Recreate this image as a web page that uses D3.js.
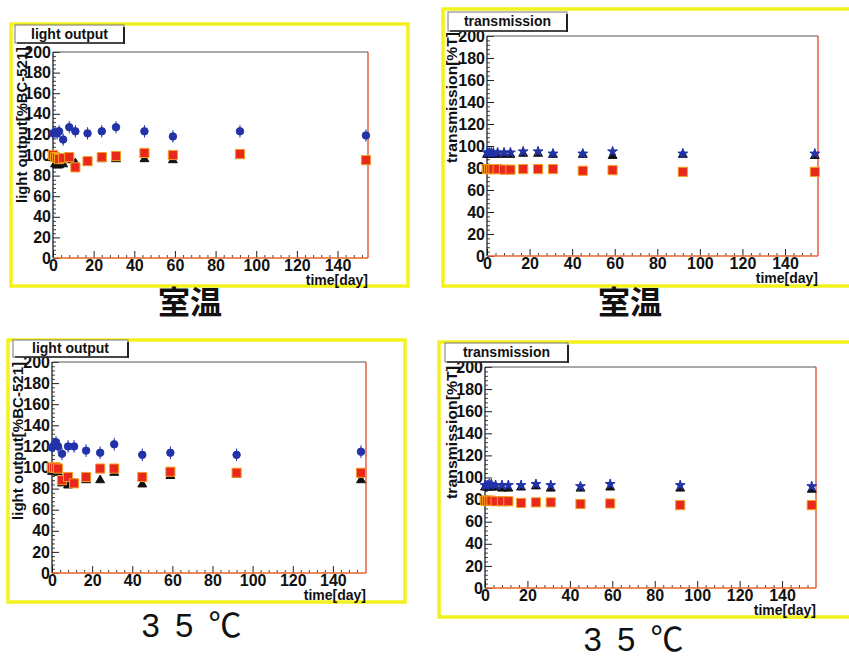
<!DOCTYPE html>
<html><head><meta charset="utf-8">
<script src="https://cdn.jsdelivr.net/npm/d3@7"></script>
<style>
html,body{margin:0;padding:0;background:#fff;}
svg{display:block;}
.tick text{font-family:"Liberation Sans Narrow","Liberation Sans",Arial,sans-serif;font-weight:bold;font-size:16px;fill:#111;}
</style></head>
<body><svg id="c" width="849" height="658"></svg>
<script>
// ---- data ----
const days = [0,1,2,3,5,8,11,17,24,31,45,59,92,154];
// light output, room temperature
const loRoomBlue  = [121,122,121,123,115,127,123,121,123,127,123,118,123,119];
const loRoomRed   = [100,98,97,96,97,98,88,94,98,99,102,100,101,95];
const loRoomBlack = [97,91,90,90,91,95,92,93,96,96,96,95,99,94];
// transmission, room temperature
const trRoomBlue  = [94,94,94,94,94,94,94,95,95,93,93,95,93,93];
const trRoomBlack = [92,92,92,92,92,92,92,93,93,92,92,91,92,91];
const trRoomRed   = [79,79,79,79,79,78.5,78.5,79,79,79,77.5,78,76.5,76.5];
// light output, 35 C
const lo35Blue  = [119,121,124,120,113,120,120,116,114,122,112,114,112,115];
const lo35Red   = [100,100,100,99,88,91,85,91,99,99,91,96,95,95];
const lo35Black = [96,96,96,95,85,83,85,88,88,95,84,92,93,88];
// transmission, 35 C
const tr35Blue  = [93,93,94,94,93,93,93,93,94,93,92,94,93,92];
const tr35Black = [91,91,91,91,91,90,90,91,92,90,90,91,90,89];
const tr35Red   = [79,79,79,79,78.5,78.5,78.5,77,77.5,77.5,76,76.5,75,75];

const yTicks = [0,20,40,60,80,100,120,140,160,180,200];
const xTicks = [0,20,40,60,80,100,120,140];
const xTitle = "time[day]";
const panelTitles = ["light output","transmission","light output","transmission"];
const yTitles = ["light output[%BC-521]","transmission[%T]","light output[%BC-521]","transmission[%T]"];
const captions = ["室温","室温","3 5 ℃","3 5 ℃"];

// ---- layout ----
const panels = [
  {frame:[11,24,408,286], plot:[53,52,368,258], x1:155, box:[15,25,124,43], yt:[22,47,156], cap:[190,314], bold:true,
   blue:loRoomBlue, red:loRoomRed, black:loRoomBlack, star:false},
  {frame:[443,9,862,286], plot:[487,36,818,256], x1:155.5, box:[448,12,567,31], yt:[452,32,131], cap:[630,314], bold:true,
   blue:trRoomBlue, red:trRoomRed, black:trRoomBlack, star:true},
  {frame:[8,340,405,602], plot:[52,362,366,573], x1:156.5, box:[13,340,128,357], yt:[18,362,158], cap:[193,637], bold:false,
   blue:lo35Blue, red:lo35Red, black:lo35Black, star:false},
  {frame:[439,342,862,617], plot:[485,367,816,588], x1:156, box:[445,343,568,362], yt:[452,366,133], cap:[635,651], bold:false,
   blue:tr35Blue, red:tr35Red, black:tr35Black, star:true}
];

const svg = d3.select("#c");
const FONT = '"Liberation Sans",Arial,sans-serif';

panels.forEach((p,i)=>{
  const g = svg.append("g");
  const [fx0,fy0,fx1,fy1] = p.frame;
  g.append("rect").attr("x",fx0).attr("y",fy0).attr("width",fx1-fx0).attr("height",fy1-fy0)
    .attr("fill","#fff").attr("stroke","#f3f21c").attr("stroke-width",3.5);

  const [px0,py0,px1,py1] = p.plot;
  const x = d3.scaleLinear().domain([0,p.x1]).range([px0,px1]);
  const y = d3.scaleLinear().domain([0,200]).range([py1,py0]);

  // minor ticks
  const yMinor = d3.range(0,201,4).filter(v=>v%20!==0);
  const xMinor = d3.range(0,156,4).filter(v=>v%20!==0);
  g.append("g").attr("transform",`translate(${px0},0)`)
    .call(d3.axisLeft(y).tickValues(yMinor).tickSize(-3).tickFormat(""))
    .call(a=>a.select(".domain").remove()).selectAll("line").attr("stroke","#444");
  g.append("g").attr("transform",`translate(0,${py1})`)
    .call(d3.axisBottom(x).tickValues(xMinor).tickSize(-3).tickFormat(""))
    .call(a=>a.select(".domain").remove()).selectAll("line").attr("stroke","#444");
  // major
  const ya = g.append("g").attr("transform",`translate(${px0},0)`)
    .call(d3.axisLeft(y).tickValues(yTicks).tickSize(-7).tickPadding(2))
    .call(a=>a.select(".domain").remove());
  ya.selectAll("line").attr("stroke","#222");
  const xa = g.append("g").attr("transform",`translate(0,${py1})`)
    .call(d3.axisBottom(x).tickValues(xTicks).tickSize(-7).tickPadding(2))
    .call(a=>a.select(".domain").remove());
  xa.selectAll("line").attr("stroke","#222");

  // frame lines
  g.append("line").attr("x1",px0).attr("x2",px1).attr("y1",py0).attr("y2",py0).attr("stroke","#555").attr("stroke-width",1);
  g.append("line").attr("x1",px0).attr("x2",px0).attr("y1",py0).attr("y2",py1).attr("stroke","#111").attr("stroke-width",1.2);
  g.append("line").attr("x1",px1).attr("x2",px1).attr("y1",py0).attr("y2",py1).attr("stroke","#e0442a").attr("stroke-width",1.3);
  g.append("line").attr("x1",px0).attr("x2",px1).attr("y1",py1).attr("y2",py1).attr("stroke","#e8662a").attr("stroke-width",1.3);

  // axis titles
  g.append("text").attr("transform",`translate(${p.yt[0]},${p.yt[1]}) rotate(-90)`)
    .attr("text-anchor","end").attr("dy","0.35em")
    .attr("font-family",FONT).attr("font-weight","bold").attr("font-size",14).attr("fill","#111")
    .attr("textLength",p.yt[2]).attr("lengthAdjust","spacingAndGlyphs")
    .text(yTitles[i]);
  g.append("text").attr("x",px1).attr("y",py1+27).attr("text-anchor","end")
    .attr("font-family",FONT).attr("font-weight","bold").attr("font-size",14).attr("fill","#111")
    .text(xTitle);

  // title box
  const [bx0,by0,bx1,by1] = p.box;
  g.append("rect").attr("x",bx0).attr("y",by0).attr("width",bx1-bx0).attr("height",by1-by0)
    .attr("fill","#fff").attr("stroke","#777").attr("stroke-width",1);
  g.append("line").attr("x1",bx1).attr("x2",bx1).attr("y1",by0+2).attr("y2",by1+1).attr("stroke","#222").attr("stroke-width",2);
  g.append("line").attr("x1",bx0+2).attr("x2",bx1).attr("y1",by1).attr("y2",by1).attr("stroke","#222").attr("stroke-width",1.5);
  g.append("text").attr("x",(bx0+bx1)/2).attr("y",(by0+by1)/2).attr("dy","0.35em").attr("text-anchor","middle")
    .attr("font-family",FONT).attr("font-weight","bold").attr("font-size",14).attr("fill","#111")
    .text(panelTitles[i]);

  // series
  const series = [
    {vals:p.black, fill:"#111", stroke:"#111", sym:d3.symbolTriangle, size:34, err:2},
    {vals:p.red, fill:"#e8281c", stroke:"#f5a020", sym:d3.symbolSquare, size:84, err:2},
    {vals:p.blue, fill:"#2232a8", stroke:"#2232a8", sym:p.star?d3.symbolStar:d3.symbolCircle, size:p.star?30:44, err:p.star?2.5:6}
  ];
  series.forEach(s=>{
    const sg = g.append("g");
    sg.selectAll("line.e").data(days).join("line").attr("class","e")
      .attr("x1",(d)=>x(d)).attr("x2",(d)=>x(d))
      .attr("y1",(d,j)=>y(s.vals[j]+s.err)).attr("y2",(d,j)=>y(s.vals[j]-s.err))
      .attr("stroke",s.fill).attr("stroke-width",1);
    sg.selectAll("path").data(days).join("path")
      .attr("transform",(d,j)=>`translate(${x(d)},${y(s.vals[j])})`)
      .attr("d",d3.symbol().type(s.sym).size(s.size)())
      .attr("fill",s.fill).attr("stroke",s.stroke).attr("stroke-width",1);
  });

  // caption
  const cap = g.append("text").attr("x",p.cap[0]).attr("y",p.cap[1]).attr("text-anchor","middle")
    .attr("fill","#111").text(captions[i]);
  if(p.bold){
    cap.attr("font-family",'"Noto Sans CJK JP","Noto Sans CJK SC",sans-serif').attr("font-weight","bold").attr("font-size",32);
  } else {
    cap.attr("font-family",'"Liberation Sans","Noto Sans CJK JP",sans-serif').attr("font-size",33).attr("letter-spacing","3px");
  }
});
</script></body></html>
